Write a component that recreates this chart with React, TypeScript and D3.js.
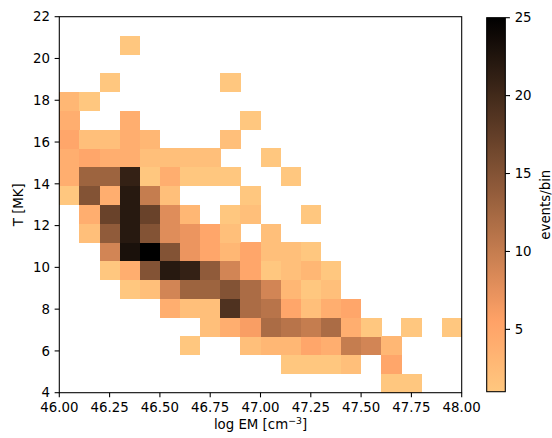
import React from "react";
import * as d3 from "d3";

// ---- data ----
// Bin layout: 20 bins in log EM (46 → 48), 20 bins in T (4 → 22 MK)
const logEMRange = [46, 48];
const tempRange = [4, 22];
const nBinsX = 20;
const nBinsY = 20;

// counts[j][i]: j = T bin (from 4 MK upward), i = log EM bin (from 46.0 rightward)
const counts: number[][] = [
  [0,0,0,0,0,0,0,0,0,0,0,0,0,0,0,0,1,1,0,0],
  [0,0,0,0,0,0,0,0,0,0,0,1,1,1,2,0,5,0,0,0],
  [0,0,0,0,0,0,1,0,0,2,3,3,5,4,10,9,3,0,0,0],
  [0,0,0,0,0,0,0,2,4,6,12,11,10,12,4,1,0,1,0,1],
  [0,0,0,0,0,4,2,2,19,12,11,5,2,4,5,0,0,0,0,0],
  [0,0,0,1,2,9,13,13,15,12,9,3,1,2,0,0,0,0,0,0],
  [0,0,1,4,15,22,21,14,9,5,1,2,3,1,0,0,0,0,0,0],
  [0,0,9,23,25,15,7,5,3,5,2,2,1,0,0,0,0,0,0,0],
  [0,2,14,22,15,8,7,5,2,0,2,0,0,0,0,0,0,0,0,0],
  [0,4,17,22,17,8,3,0,1,2,0,0,1,0,0,0,0,0,0,0],
  [1,15,4,22,10,2,0,0,0,1,0,0,0,0,0,0,0,0,0,0],
  [4,13,13,21,1,4,1,1,1,0,0,1,0,0,0,0,0,0,0,0],
  [4,5,4,4,2,2,2,2,0,0,1,0,0,0,0,0,0,0,0,0],
  [5,2,2,4,3,0,0,0,2,0,0,0,0,0,0,0,0,0,0,0],
  [4,0,0,4,0,0,0,0,0,1,0,0,0,0,0,0,0,0,0,0],
  [3,1,0,0,0,0,0,0,0,0,0,0,0,0,0,0,0,0,0,0],
  [0,0,1,0,0,0,0,0,1,0,0,0,0,0,0,0,0,0,0,0],
  [0,0,0,0,0,0,0,0,0,0,0,0,0,0,0,0,0,0,0,0],
  [0,0,0,1,0,0,0,0,0,0,0,0,0,0,0,0,0,0,0,0],
  [0,0,0,0,0,0,0,0,0,0,0,0,0,0,0,0,0,0,0,0],
];

const xTicks = [46.0, 46.25, 46.5, 46.75, 47.0, 47.25, 47.5, 47.75, 48.0];
const yTicks = [4, 6, 8, 10, 12, 14, 16, 18, 20, 22];
const cbarTicks = [5, 10, 15, 20, 25];
const colorRange = [1, 25];

// ---- layout ----
const W = 552;
const H = 438;
const plot = { left: 59.3, right: 461.7, top: 16.7, bottom: 392.7 };
const cbar = { left: 486.7, right: 505.3, top: 17.7, bottom: 391.7 };
const FONT = "DejaVu Sans, sans-serif";
const FS = 13.33;
const TICK = 4.67;

function copperR(n: number): string {
  const t = 1 - Math.max(0, Math.min(1, n));
  const r = Math.min(1, t / 0.809524);
  const g = 0.7812 * t;
  const b = 0.4975 * t;
  return d3.rgb(r * 255, g * 255, b * 255).formatHex();
}

export default function App() {
  const x = d3.scaleLinear().domain(logEMRange).range([plot.left, plot.right]);
  const y = d3.scaleLinear().domain(tempRange).range([plot.bottom, plot.top]);
  const norm = d3.scaleLinear().domain(colorRange).range([0, 1]);
  const cy = d3.scaleLinear().domain(colorRange).range([cbar.bottom, cbar.top]);

  const dx = (logEMRange[1] - logEMRange[0]) / nBinsX;
  const dy = (tempRange[1] - tempRange[0]) / nBinsY;

  const cells: { x0: number; x1: number; y0: number; y1: number; c: number }[] = [];
  counts.forEach((row, j) =>
    row.forEach((c, i) => {
      if (c > 0) {
        cells.push({
          x0: logEMRange[0] + i * dx,
          x1: logEMRange[0] + (i + 1) * dx,
          y0: tempRange[0] + j * dy,
          y1: tempRange[0] + (j + 1) * dy,
          c,
        });
      }
    })
  );

  const stops = d3.range(0, 1.0001, 1 / 48);
  const fmt = d3.format(".2f");

  return (
    <div style={{ position: "absolute", left: 0, top: 0 }}>
      <svg width={W} height={H} viewBox={`0 0 ${W} ${H}`} style={{ display: "block", background: "#fff" }}>
        <defs>
          <linearGradient id="cbar" x1="0" y1="1" x2="0" y2="0">
            {stops.map((s, k) => (
              <stop key={k} offset={s} stopColor={copperR(s)} />
            ))}
          </linearGradient>
        </defs>
        {/* cells */}
        <g shapeRendering="crispEdges">
          {cells.map((d, k) => (
            <rect
              key={k}
              x={x(d.x0)}
              y={y(d.y1)}
              width={x(d.x1) - x(d.x0) + 0.3}
              height={y(d.y0) - y(d.y1) + 0.3}
              fill={copperR(norm(d.c))}
            />
          ))}
        </g>
        {/* frame */}
        <rect
          x={plot.left}
          y={plot.top}
          width={plot.right - plot.left}
          height={plot.bottom - plot.top}
          fill="none"
          stroke="#000"
          strokeWidth={1.07}
        />
        {/* x ticks */}
        {xTicks.map((t) => (
          <g key={t}>
            <line x1={x(t)} x2={x(t)} y1={plot.bottom} y2={plot.bottom + TICK} stroke="#000" strokeWidth={1.07} />
            <text x={x(t)} y={plot.bottom + 2 * TICK + 0.76 * FS} textAnchor="middle" fontFamily={FONT} fontSize={FS} fill="#000">
              {fmt(t)}
            </text>
          </g>
        ))}
        {/* y ticks */}
        {yTicks.map((t) => (
          <g key={t}>
            <line x1={plot.left - TICK} x2={plot.left} y1={y(t)} y2={y(t)} stroke="#000" strokeWidth={1.07} />
            <text x={plot.left - 2 * TICK} y={y(t) + 0.36 * FS} textAnchor="end" fontFamily={FONT} fontSize={FS} fill="#000">
              {t}
            </text>
          </g>
        ))}
        {/* axis labels */}
        <text x={(plot.left + plot.right) / 2} y={429} textAnchor="middle" fontFamily={FONT} fontSize={FS} fill="#000">
          log EM [cm
          <tspan dy={-5} fontSize={FS * 0.7}>−3</tspan>
          <tspan dy={5}>]</tspan>
        </text>
        <text
          transform={`translate(${22.7},${(plot.top + plot.bottom) / 2}) rotate(-90)`}
          textAnchor="middle"
          fontFamily={FONT}
          fontSize={FS}
          fill="#000"
        >
          T [MK]
        </text>
        {/* colorbar */}
        <rect x={cbar.left} y={cbar.top} width={cbar.right - cbar.left} height={cbar.bottom - cbar.top} fill="url(#cbar)" />
        <rect
          x={cbar.left}
          y={cbar.top}
          width={cbar.right - cbar.left}
          height={cbar.bottom - cbar.top}
          fill="none"
          stroke="#000"
          strokeWidth={1.07}
        />
        {cbarTicks.map((t) => (
          <g key={t}>
            <line x1={cbar.right} x2={cbar.right + TICK} y1={cy(t)} y2={cy(t)} stroke="#000" strokeWidth={1.07} />
            <text x={cbar.right + 2 * TICK} y={cy(t) + 0.36 * FS} textAnchor="start" fontFamily={FONT} fontSize={FS} fill="#000">
              {t}
            </text>
          </g>
        ))}
        <text
          transform={`translate(${550.3},${(cbar.top + cbar.bottom) / 2}) rotate(-90)`}
          textAnchor="middle"
          fontFamily={FONT}
          fontSize={FS}
          fill="#000"
        >
          events/bin
        </text>
      </svg>
    </div>
  );
}
